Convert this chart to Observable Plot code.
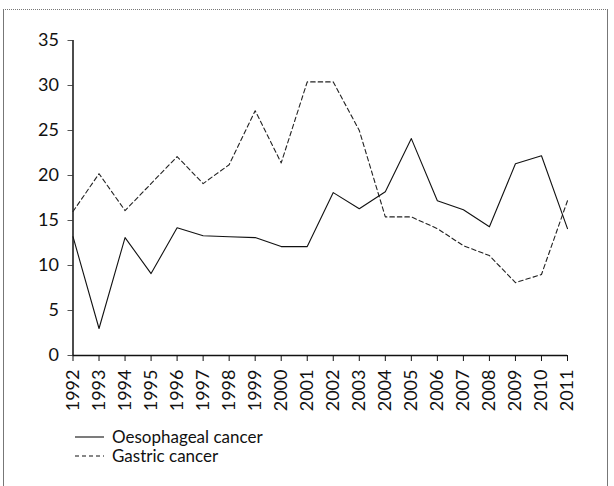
<!DOCTYPE html>
<html><head><meta charset="utf-8">
<script src="https://cdn.jsdelivr.net/npm/d3@7"></script>
<script src="https://cdn.jsdelivr.net/npm/@observablehq/plot@0.6"></script>
<style>
body{margin:0;background:#fff;}
#frame{position:relative;width:614px;height:486px;overflow:hidden;font-family:Lato,sans-serif;}
#box{position:absolute;left:3px;top:9px;width:603px;height:500px;border-left:1.5px solid #777;border-right:1.5px solid #777;border-top:1px dotted #777;}
#chart{position:absolute;left:0;top:0;}
#legend{position:absolute;left:75px;top:429px;font-size:17px;color:#111;line-height:16px;}
.item{display:flex;align-items:center;height:16px;margin-bottom:3px;}
.item span{line-height:16px;}
.item svg{margin-right:8px;}
</style></head>
<body><div id="frame"><div id="box"></div><div id="chart"></div>
<div id="legend"></div></div>
<script>
const years = [1992,1993,1994,1995,1996,1997,1998,1999,2000,2001,2002,2003,2004,2005,2006,2007,2008,2009,2010,2011];
const oesophageal = [13.2,3.0,13.1,9.1,14.2,13.3,13.2,13.1,12.1,12.1,18.1,16.3,18.2,24.1,17.2,16.2,14.3,21.3,22.2,14.1];
const gastric = [16.0,20.2,16.1,19.1,22.1,19.1,21.2,27.2,21.4,30.4,30.4,25.0,15.4,15.4,14.1,12.2,11.1,8.1,9.0,17.2];
const seriesNames = ["Oesophageal cancer","Gastric cancer"];
const yTicks = [0,5,10,15,20,25,30,35];

const data = [
  ...years.map((y,i)=>({year:y, value:oesophageal[i], series:seriesNames[0]})),
  ...years.map((y,i)=>({year:y, value:gastric[i], series:seriesNames[1]}))
];

const plot = Plot.plot({
  width:614, height:420,
  marginLeft:72.5, marginRight:47, marginTop:40, marginBottom:65,
  style:{fontFamily:"Lato,sans-serif", fontSize:"18px", color:"#111", background:"transparent"},
  x:{domain:[1992,2011]},
  y:{domain:[0,35]},
  marks:[
    Plot.axisY({ticks:yTicks, tickSize:5, tickPadding:9, label:null, stroke:"#555", fontSize:18}),
    Plot.ruleX([1992],{stroke:"#111", strokeWidth:1.5}),
    Plot.axisX({ticks:years, tickFormat:d=>String(d), tickSize:6, tickPadding:8, tickRotate:-90, label:null, fontSize:18, stroke:"#111"}),
    Plot.ruleY([0],{stroke:"#111", strokeWidth:1.5}),
    Plot.line(data.filter(d=>d.series===seriesNames[1]),{x:"year", y:"value", stroke:"#222", strokeWidth:1.1, strokeDasharray:"4.5,3"}),
    Plot.line(data.filter(d=>d.series===seriesNames[0]),{x:"year", y:"value", stroke:"#111", strokeWidth:1.1})
  ]
});
document.getElementById("chart").appendChild(plot);

const legend = document.getElementById("legend");
seriesNames.forEach((name,i)=>{
  const div = document.createElement("div");
  div.className="item";
  div.innerHTML = `<svg width="29" height="4"><line x1="0" x2="29" y1="2" y2="2" stroke="#111" stroke-width="1.1" ${i===1?'stroke-dasharray="4,3"':''}/></svg><span>${name}</span>`;
  legend.appendChild(div);
});
</script></body></html>
